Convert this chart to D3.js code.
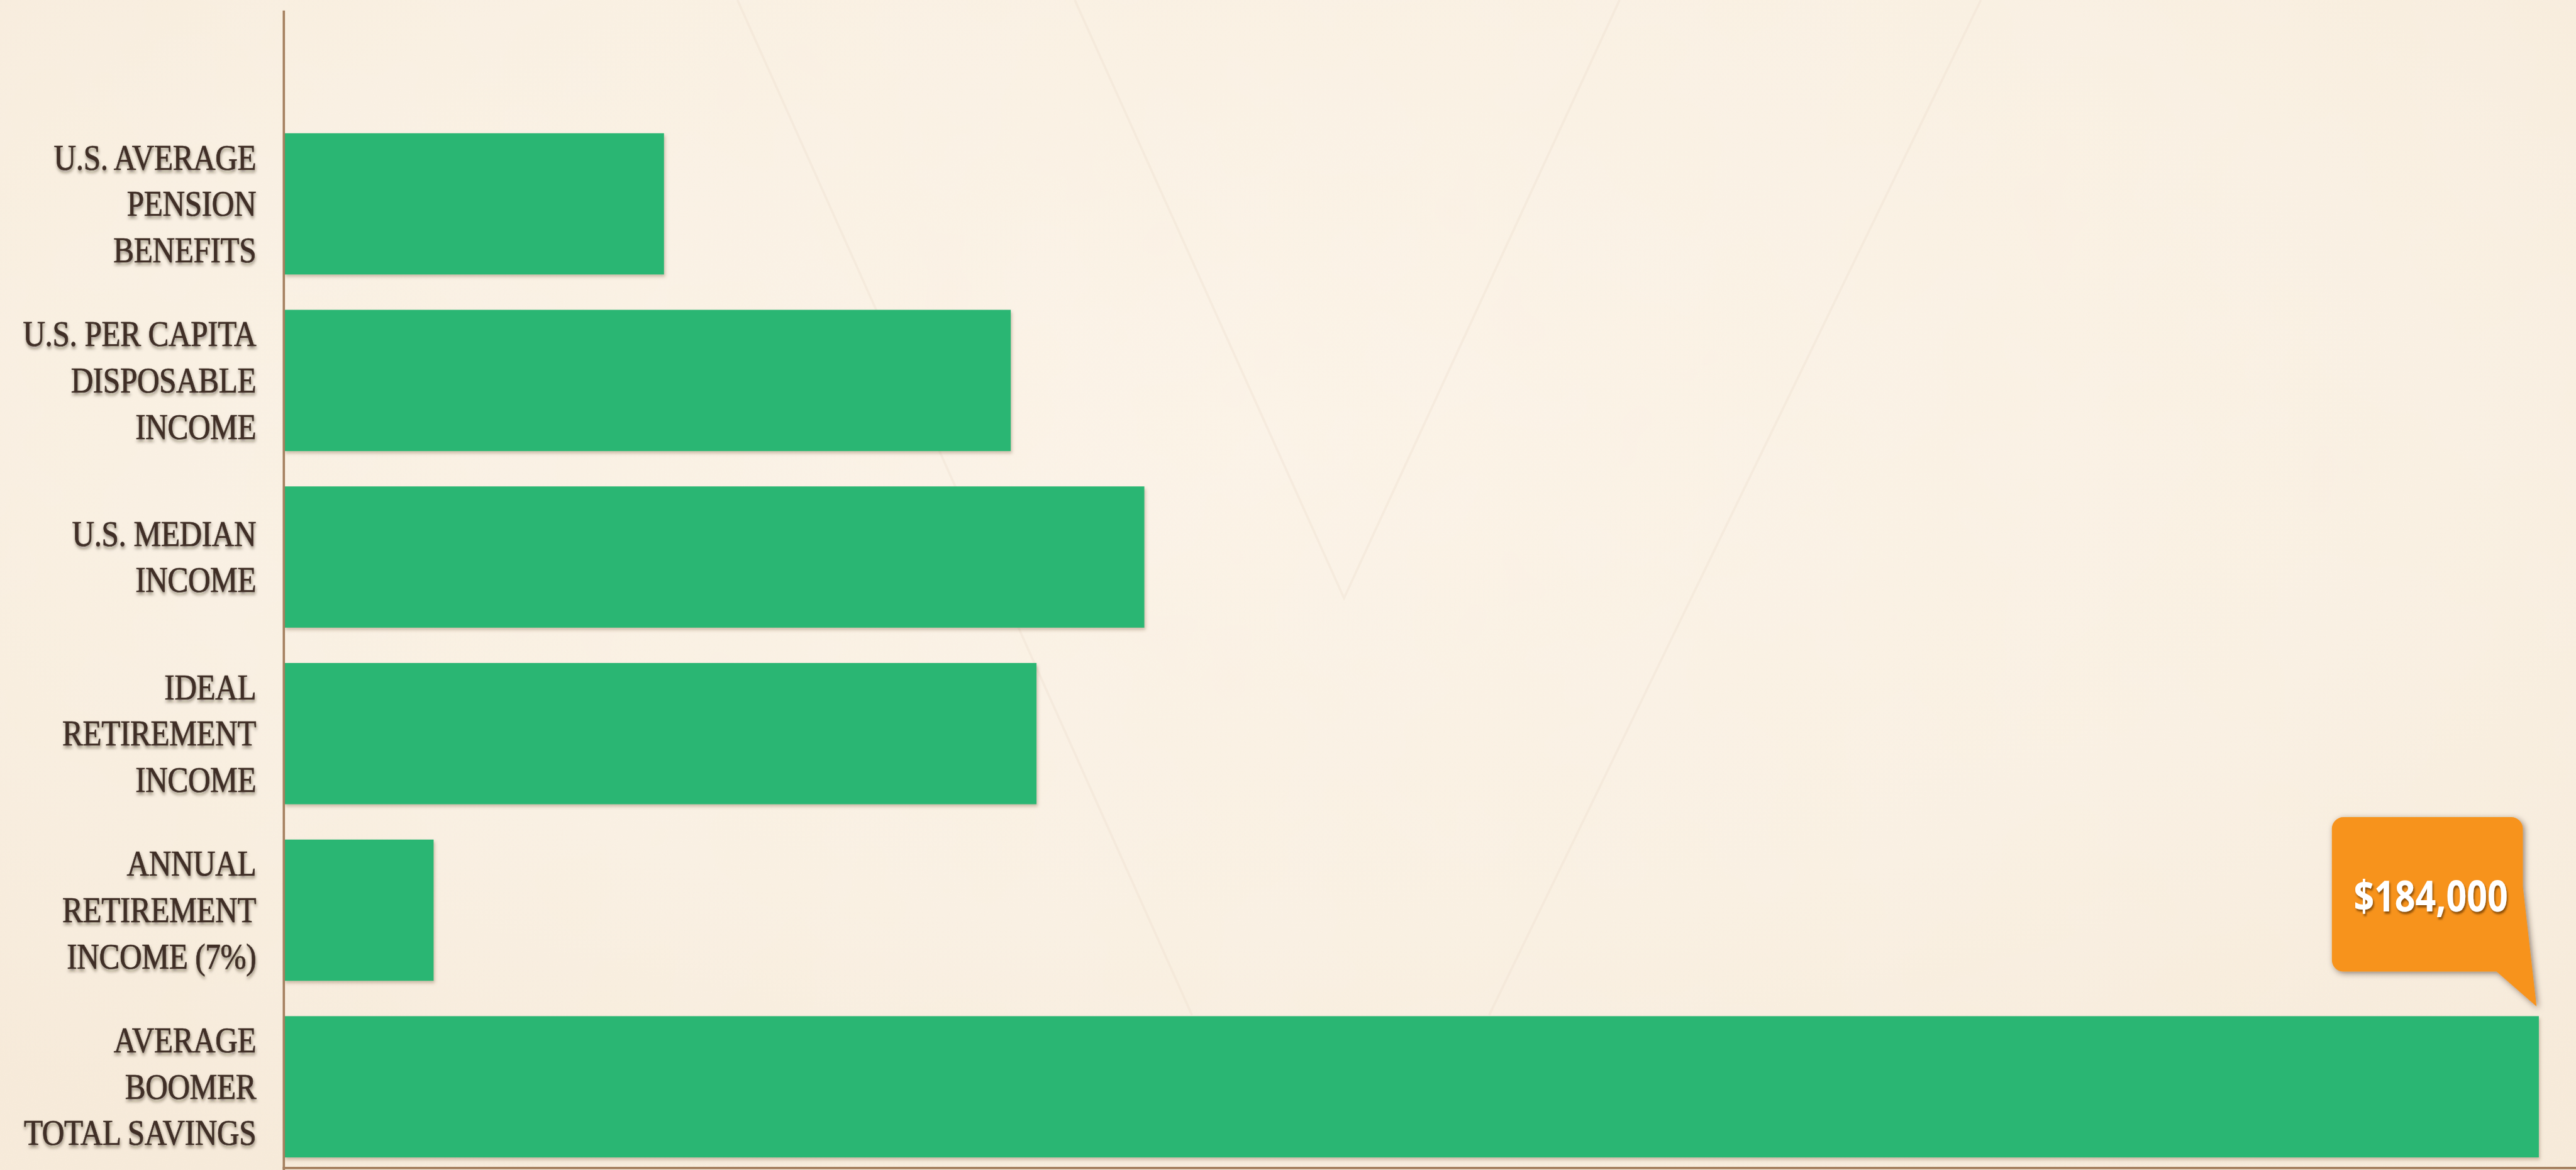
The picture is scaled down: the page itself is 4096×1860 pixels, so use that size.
<!DOCTYPE html>
<html>
<head>
<meta charset="utf-8">
<script src="https://cdn.jsdelivr.net/npm/d3@7"></script>
<style>
  html, body { margin: 0; padding: 0; background: #f9efe3; overflow: hidden; }
  svg { display: block; }
</style>
</head>
<body>
<svg id="chart" width="4096" height="1860" viewBox="0 0 4506 2046" preserveAspectRatio="none"></svg>
<script>
// Category labels (line breaks mark how each label wraps)
const categories = [
  "U.S. AVERAGE\nPENSION\nBENEFITS",
  "U.S. PER CAPITA\nDISPOSABLE\nINCOME",
  "U.S. MEDIAN\nINCOME",
  "IDEAL\nRETIREMENT\nINCOME",
  "ANNUAL\nRETIREMENT\nINCOME (7%)",
  "AVERAGE\nBOOMER\nTOTAL SAVINGS"
];
// Dollar amounts for each bar
const values = [31000, 59300, 70200, 61400, 12200, 184000];
// Index of the bar that carries the callout
const highlightIndex = [5];

const W = 4506, H = 2046;
const svg = d3.select("#chart");
const defs = svg.append("defs");

// ---- background paper ----
const bg = defs.append("radialGradient").attr("id", "paper")
  .attr("cx", "50%").attr("cy", "35%").attr("r", "75%");
bg.append("stop").attr("offset", "0%").attr("stop-color", "#fcf4ea");
bg.append("stop").attr("offset", "60%").attr("stop-color", "#faf1e5");
bg.append("stop").attr("offset", "100%").attr("stop-color", "#f7ebdb");

const grain = defs.append("filter").attr("id", "grain")
  .attr("x", 0).attr("y", 0).attr("width", "100%").attr("height", "100%");
grain.append("feTurbulence").attr("type", "fractalNoise")
  .attr("baseFrequency", 0.55).attr("numOctaves", 2).attr("seed", 7).attr("result", "n");
grain.append("feColorMatrix").attr("in", "n").attr("type", "matrix")
  .attr("values", "0 0 0 0 0.85  0 0 0 0 0.74  0 0 0 0 0.55  0 0 0 0.12 0");

const mottle = defs.append("filter").attr("id", "mottle")
  .attr("x", 0).attr("y", 0).attr("width", "100%").attr("height", "100%");
mottle.append("feTurbulence").attr("type", "fractalNoise")
  .attr("baseFrequency", 0.004).attr("numOctaves", 3).attr("seed", 3).attr("result", "m");
mottle.append("feColorMatrix").attr("in", "m").attr("type", "matrix")
  .attr("values", "0 0 0 0 0.92  0 0 0 0 0.83  0 0 0 0 0.66  0 0 0 0.16 -0.05");

svg.append("rect").attr("width", W).attr("height", H).attr("fill", "url(#paper)");
svg.append("rect").attr("width", W).attr("height", H).attr("filter", "url(#mottle)");
svg.append("rect").attr("width", W).attr("height", H).attr("filter", "url(#grain)");

// faint creases in the paper
const creases = [
  [[1290, 0], [2085, 1775]],
  [[1880, 0], [2351, 1046], [2833, 0]],
  [[3465, 0], [2605, 1775]]
];
svg.append("g").selectAll("path").data(creases).join("path")
  .attr("d", d => d3.line()(d))
  .attr("fill", "none")
  .attr("stroke", "#eadccb")
  .attr("stroke-opacity", 0.3)
  .attr("stroke-width", 4);

// ---- shadows ----
function shadow(id, dx, dy, sd, color, op) {
  const f = defs.append("filter").attr("id", id)
    .attr("x", "-20%").attr("y", "-20%").attr("width", "140%").attr("height", "160%");
  f.append("feDropShadow").attr("dx", dx).attr("dy", dy).attr("stdDeviation", sd)
    .attr("flood-color", color).attr("flood-opacity", op);
}
shadow("barShadow", 2, 4, 3, "#7a5a3a", 0.35);
shadow("labelShadow", 1, 4, 3, "#2a1a10", 0.5);
shadow("calloutShadow", 3, 3, 5, "#3a2a1a", 0.55);
shadow("valueShadow", 2, 4, 2, "#6b3a00", 0.75);

// ---- scales ----
const x = d3.scaleLinear().domain([0, 184000]).range([497, 4441]);
const y = d3.scaleBand().domain(d3.range(categories.length))
  .range([233, 2024]).paddingInner(0.2).paddingOuter(0);

// ---- bars ----
svg.append("g").selectAll("rect").data(values).join("rect")
  .attr("x", x(0))
  .attr("y", (d, i) => y(i))
  .attr("width", d => x(d) - x(0))
  .attr("height", y.bandwidth())
  .attr("fill", "#2cb673")
  .attr("filter", "url(#barShadow)");

// ---- axes ----
const axisColor = "#a47f5e";
const yAxis = svg.append("g").attr("transform", `translate(${x(0) - 1},0)`)
  .call(d3.axisLeft(d3.scaleLinear().domain([0, 1]).range([H, 18])).ticks(0).tickSize(0).tickSizeOuter(0));
yAxis.select(".domain").attr("stroke", axisColor).attr("stroke-width", 4);

const xAxis = svg.append("g").attr("transform", `translate(0,${H - 4})`)
  .call(d3.axisBottom(d3.scaleLinear().domain([0, 1]).range([x(0) - 3, W])).ticks(0).tickSize(0).tickSizeOuter(0));
xAxis.select(".domain").attr("stroke", axisColor).attr("stroke-width", 4);

// ---- category labels ----
const pitch = 81;
const labels = svg.append("g").selectAll("g").data(categories).join("g")
  .attr("transform", (d, i) => `translate(448,${y(i) + y.bandwidth() / 2}) scale(0.875,1)`)
  .attr("filter", "url(#labelShadow)");
labels.each(function (d) {
  const lines = d.split("\n");
  const g = d3.select(this);
  g.selectAll("text").data(lines).join("text")
    .attr("x", 0)
    .attr("y", (l, j) => -pitch * (lines.length - 1) / 2 + 21 + pitch * j)
    .attr("text-anchor", "end")
    .attr("font-family", "'Liberation Serif', 'DejaVu Serif', serif")
    .attr("font-size", 62)
    .attr("letter-spacing", -0.5)
    .attr("fill", "#3f2f27")
    .attr("stroke", "#3f2f27")
    .attr("stroke-width", 0.8)
    .text(l => l);
});

// ---- value callout ----
const fmt = d3.format("$,");
highlightIndex.forEach(i => {
  const tipX = x(values[i]) - 4;
  const tipY = y(i) - 17;
  const R = tipX - 24, L = R - 334, T = tipY - 331, B = tipY - 61, r = 20;
  const p = d3.path();
  p.moveTo(L + r, T);
  p.lineTo(R - r, T);
  p.arcTo(R, T, R, T + r, r);
  p.lineTo(R, T + 121);
  p.lineTo(tipX, tipY);
  p.lineTo(R - 46, B);
  p.lineTo(L + r, B);
  p.arcTo(L, B, L, B - r, r);
  p.lineTo(L, T + r);
  p.arcTo(L, T, L + r, T, r);
  p.closePath();

  const g = svg.append("g");
  g.append("path").attr("d", p.toString())
    .attr("fill", "#f7931e")
    .attr("filter", "url(#calloutShadow)");
  g.append("text")
    .attr("x", (L + R) / 2 + 6)
    .attr("y", T + 165)
    .attr("text-anchor", "middle")
    .attr("font-family", "'Open Sans', 'Noto Sans', sans-serif")
    .attr("font-weight", 700)
    .attr("font-size", 74)
    .attr("textLength", 270)
    .attr("lengthAdjust", "spacingAndGlyphs")
    .attr("fill", "#ffffff")
    .attr("filter", "url(#valueShadow)")
    .text(fmt(values[i]));
});
</script>
</body>
</html>
